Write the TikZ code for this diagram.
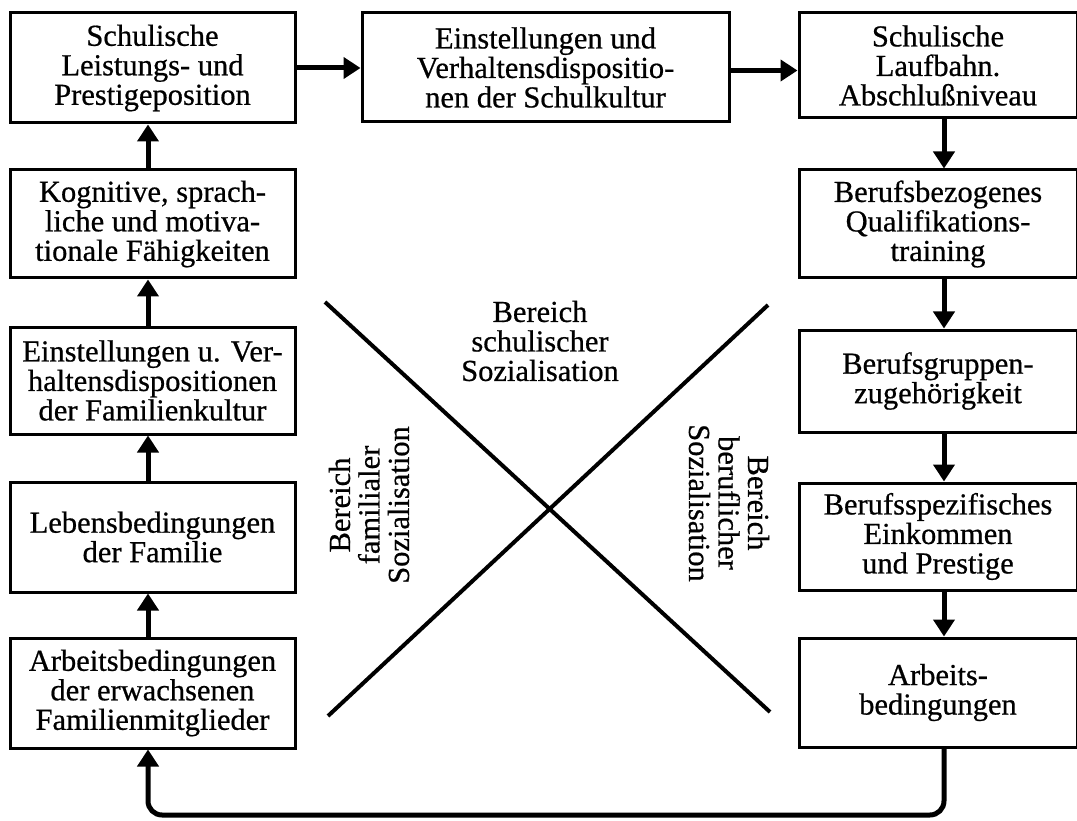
\documentclass[tikz,border=0pt]{standalone}
\usepackage{fontspec}
\setmainfont{Liberation Serif}
\newfontfamily\diafont{Liberation Serif}[FakeBold=0.6]
\usetikzlibrary{arrows.meta}
\begin{document}
\begin{tikzpicture}[x=1pt,y=-1pt,
  txt/.style={align=center, inner sep=0pt, font=\diafont\fontsize{30.5}{29.5}\selectfont},
  box/.style={txt, draw, line width=3pt},
  lbox/.style={box, minimum width=285pt},
  rbox/.style={box, minimum width=278pt},
  arr/.style={line width=5pt, -{Triangle[width=21pt,length=17pt]}},
  xline/.style={line width=4pt}
]
\useasboundingbox (0,0) rectangle (1077,821);
\fill[white] (0,0) rectangle (1077,821);

% left column
\node[lbox, minimum height=110pt] (L1) at (152.5,68) {Schulische\\Leistungs- und\\Prestigeposition};
\node[lbox, minimum height=108pt] (L2) at (152.5,224) {Kognitive, sprach-\\liche und motiva-\\tionale Fähigkeiten};
\node[lbox, minimum height=107pt] (L3) at (152.5,380.5) {Einstellungen u. Ver-\\haltensdispositionen\\der Familienkultur};
\node[lbox, minimum height=110pt] (L4) at (152.5,537) {Lebensbedingungen\\der Familie};
\node[lbox, minimum height=110pt] (L5) at (152.5,693) {Arbeitsbedingungen\\der erwachsenen\\Familienmitglieder};

% middle
\node[box, minimum width=367pt, minimum height=109pt] (M) at (545.5,67.5) {Einstellungen und\\Verhaltensdispositio-\\nen der Schulkultur};

% right column
\node[rbox, minimum height=105pt] (R1) at (938,65.5) {Schulische\\Laufbahn.\\Abschlußniveau};
\node[rbox, minimum height=108pt] (R2) at (938,224) {Berufsbezogenes\\Qualifikations-\\training};
\node[rbox, minimum height=102pt] (R3) at (938,381) {Berufsgruppen-\\zugehörigkeit};
\node[rbox, minimum height=107pt] (R4) at (938,536.5) {Berufsspezifisches\\Einkommen\\und Prestige};
\node[rbox, minimum height=109pt] (R5) at (938,692.5) {Arbeits-\\bedingungen};

% arrows left column (upwards)
\draw[arr] ([xshift=-4.5pt]L2.north) -- ([xshift=-4.5pt]L1.south);
\draw[arr] ([xshift=-4.5pt]L3.north) -- ([xshift=-4.5pt]L2.south);
\draw[arr] ([xshift=-4.5pt]L4.north) -- ([xshift=-4.5pt]L3.south);
\draw[arr] ([xshift=-4.5pt]L5.north) -- ([xshift=-4.5pt]L4.south);

% top row
\draw[arr] (L1.east) -- (L1.east -| M.west);
\draw[arr] ([yshift=-3pt]M.east) -- ([yshift=-3pt]M.east -| R1.west);

% right column (downwards)
\draw[arr] ([xshift=6pt]R1.south) -- ([xshift=6pt]R2.north);
\draw[arr] ([xshift=6pt]R2.south) -- ([xshift=6pt]R3.north);
\draw[arr] ([xshift=6pt]R3.south) -- ([xshift=6pt]R4.north);
\draw[arr] ([xshift=6pt]R4.south) -- ([xshift=6pt]R5.north);

% feedback
\coordinate (fb) at (0,815);
\coordinate (rs) at ([xshift=6pt]R5.south);
\coordinate (ls) at ([xshift=-4.5pt]L5.south);
\draw[arr, rounded corners=14pt] (rs) -- (rs |- fb) -- (ls |- fb) -- (ls);

% X
\coordinate (xa) at (325,302);
\coordinate (xb) at (770,712);
\coordinate (xc) at (768,305);
\coordinate (xd) at (328,716);
\draw[xline] (xa) -- (xb);
\draw[xline] (xc) -- (xd);

% labels
\node[txt] (ts) at (540,341) {Bereich\\schulischer\\Sozialisation};
\node[txt, rotate=90] (tf) at (369,505) {Bereich\\familialer\\Sozialisation};
\node[txt, rotate=-90] (tb) at (729,503) {Bereich\\beruflicher\\Sozialisation};
\end{tikzpicture}
\end{document}
